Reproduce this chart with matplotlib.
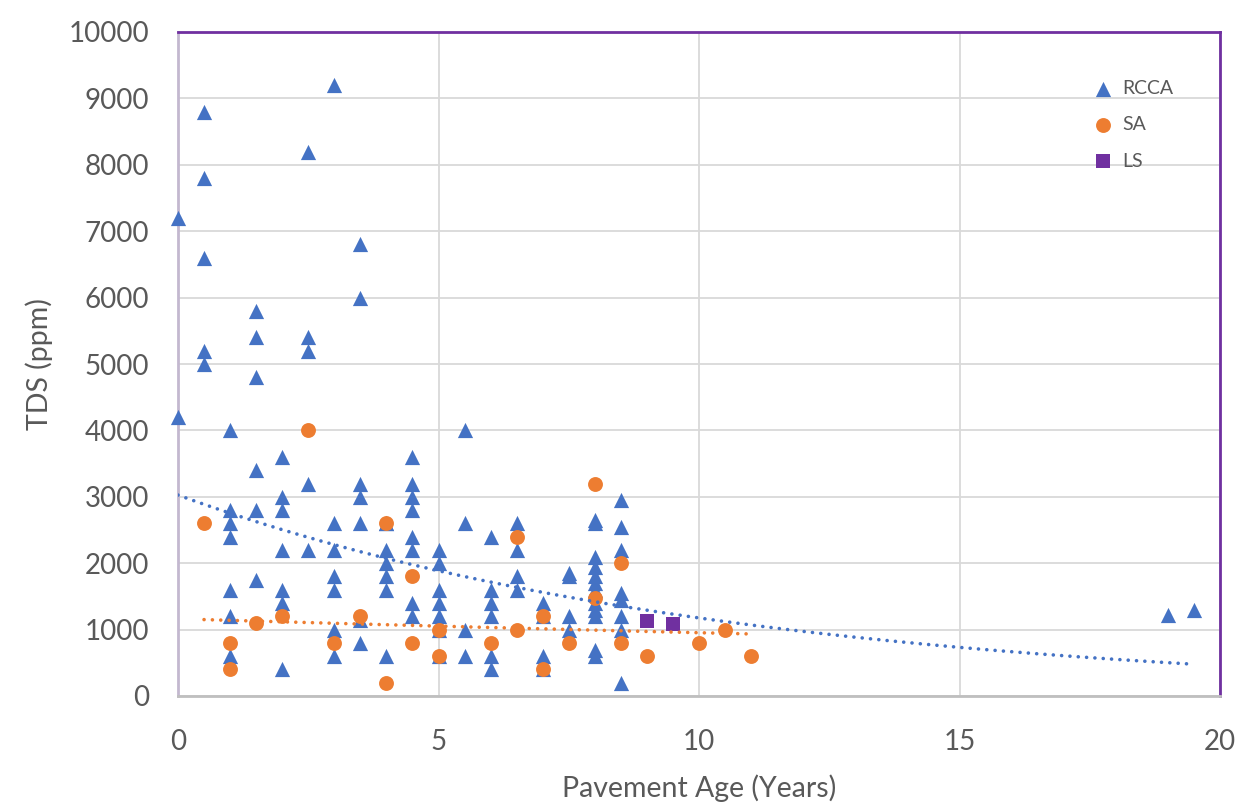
import numpy as np
import matplotlib.pyplot as plt

# RCCA points (age in years, TDS in ppm)
rcca_age = [0, 0,
            0.5, 0.5, 0.5, 0.5, 0.5,
            1, 1, 1, 1, 1, 1, 1,
            1.5, 1.5, 1.5, 1.5, 1.5, 1.5,
            2, 2, 2, 2, 2, 2, 2,
            2.5, 2.5, 2.5, 2.5, 2.5,
            3, 3, 3, 3, 3, 3, 3,
            3.5, 3.5, 3.5, 3.5, 3.5, 3.5, 3.5,
            4, 4, 4, 4, 4, 4, 4,
            4.5, 4.5, 4.5, 4.5, 4.5, 4.5, 4.5, 4.5,
            5, 5, 5, 5, 5, 5, 5,
            5.5, 5.5, 5.5, 5.5,
            6, 6, 6, 6, 6, 6,
            6.5, 6.5, 6.5, 6.5,
            7, 7, 7, 7,
            7.5, 7.5, 7.5, 7.5,
            8, 8, 8, 8, 8, 8, 8, 8, 8, 8, 8, 8,
            8.5, 8.5, 8.5, 8.5, 8.5, 8.5, 8.5, 8.5,
            19, 19.5]
rcca_tds = [7200, 4200,
            8800, 7800, 6600, 5200, 5000,
            4000, 2800, 2600, 2400, 1600, 1200, 600,
            5800, 5400, 4800, 3400, 2800, 1750,
            3600, 3000, 2800, 2200, 1600, 1400, 400,
            8200, 5400, 5200, 3200, 2200,
            9200, 2600, 2200, 1800, 1600, 1000, 600,
            6800, 6000, 3200, 3000, 2600, 1150, 800,
            2600, 2200, 2000, 1800, 1600, 600, 2600,
            3600, 3200, 3000, 2800, 2400, 2200, 1400, 1200,
            2200, 2000, 1600, 1400, 1200, 1000, 600,
            4000, 2600, 1000, 600,
            2400, 1600, 1400, 1200, 600, 400,
            2600, 2200, 1800, 1600,
            1400, 1200, 600, 400,
            1850, 1800, 1200, 1000,
            2650, 2600, 2100, 1950, 1800, 1700, 1600, 1400, 1300, 1200, 700, 600,
            2950, 2550, 2200, 1550, 1450, 1200, 1000, 200,
            1220, 1300]

# SA points
sa_age = [0.5, 1, 1, 1.5, 2, 2.5, 3, 3.5, 4, 4, 4.5, 4.5, 5, 5, 6, 6.5, 6.5,
          7, 7, 7.5, 8, 8, 8.5, 8.5, 9, 10, 10.5, 11]
sa_tds = [2600, 800, 400, 1100, 1200, 4000, 800, 1200, 2600, 200, 1800, 800, 1000, 600, 800, 2400, 1000,
          1200, 400, 800, 3200, 1475, 2000, 800, 600, 800, 1000, 600]

# LS points
ls_age = [9, 9.5]
ls_tds = [1135, 1085]

blue = '#4472C4'
orange = '#ED7D31'
purple = '#7030A0'
grey_txt = '#595959'

plt.rcParams['font.family'] = ['Lato', 'DejaVu Sans']

fig = plt.figure(figsize=(12.52, 8.06), dpi=100)
ax = fig.add_axes([178 / 1252, 1 - 696 / 806, (1220 - 178) / 1252, (696 - 32) / 806])

ax.scatter(rcca_age, rcca_tds, marker='^', s=120, color=blue, linewidths=0, label='RCCA', zorder=3, clip_on=False)
ax.scatter(sa_age, sa_tds, marker='o', s=115, color=orange, linewidths=0, label='SA', zorder=4)
ax.scatter(ls_age, ls_tds, marker='s', s=100, color=purple, linewidths=0, label='LS', zorder=5)


# exponential trendlines, fitted like excel does (log-linear)
def exp_trend(xs, ys):
    b, ln_a = np.polyfit(xs, np.log(ys), 1)
    xx = np.linspace(min(xs), max(xs), 200)
    return xx, np.exp(ln_a) * np.exp(b * xx)


tx, ty = exp_trend(rcca_age, rcca_tds)
ax.plot(tx, ty, color=blue, lw=2.6, linestyle=(0, (0.01, 2.3)), dash_capstyle='round', zorder=6)
tx, ty = exp_trend(sa_age, sa_tds)
ax.plot(tx, ty, color=orange, lw=2.6, linestyle=(0, (0.01, 2.3)), dash_capstyle='round', zorder=6)

ax.set_xlim(0, 20)
ax.set_ylim(0, 10000)
ax.set_xticks(range(0, 21, 5))
ax.set_yticks(range(0, 10001, 1000))
ax.grid(True, color='#D9D9D9', lw=1.3)
ax.set_axisbelow(True)
ax.tick_params(length=0, labelsize=20, labelcolor=grey_txt)
ax.tick_params(axis='x', pad=24)
ax.tick_params(axis='y', pad=21)

ax.spines['top'].set_color(purple)
ax.spines['top'].set_linewidth(2)
ax.spines['right'].set_color(purple)
ax.spines['right'].set_linewidth(2)
ax.spines['left'].set_color('#C3B8CF')
ax.spines['left'].set_linewidth(2)
ax.spines['bottom'].set_color('#BFBFBF')
ax.spines['bottom'].set_linewidth(2)

ax.set_xlabel('Pavement Age (Years)', fontsize=20.5, color=grey_txt, labelpad=14)
ax.set_ylabel('TDS (ppm)', fontsize=20.5, color=grey_txt, labelpad=11)

leg = ax.legend(loc='upper right', bbox_to_anchor=(0.963, 0.94), frameon=False, fontsize=14,
                handletextpad=0.0, labelspacing=1.0, markerscale=1.0, borderaxespad=0)
for t in leg.get_texts():
    t.set_color(grey_txt)

fig.savefig('out.png', dpi=100)
